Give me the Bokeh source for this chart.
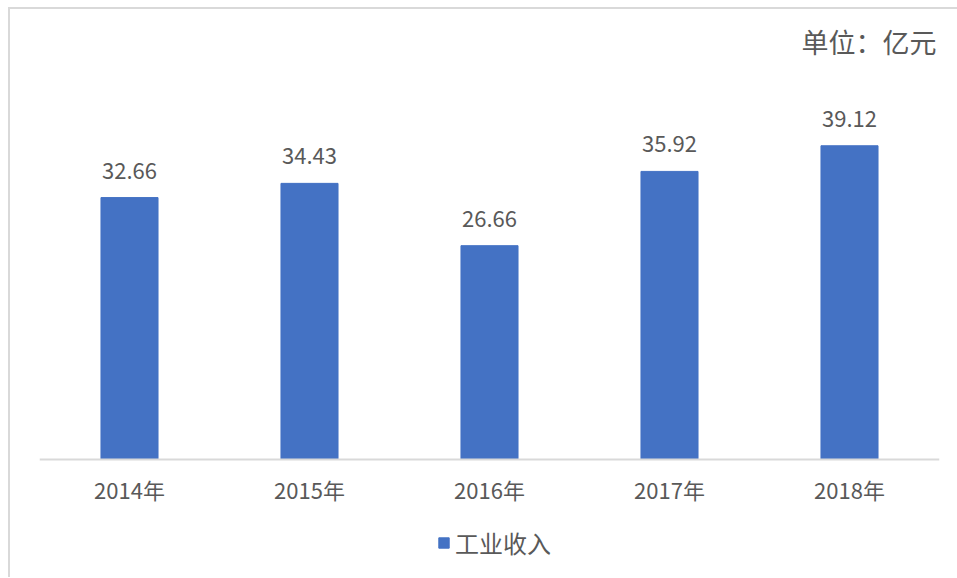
from bokeh.plotting import figure
from bokeh.models import ColumnDataSource, LabelSet, Legend, LegendItem, Range1d
from bokeh.core.properties import value
from bokeh.embed import file_html
from bokeh.resources import INLINE

years = ["2014年", "2015年", "2016年", "2017年", "2018年"]
income = [32.66, 34.43, 26.66, 35.92, 39.12]
series_name = "工业收入"
unit_text = "单位：亿元"

FONT = "Noto Sans CJK SC"
TXT = "#595959"
BAR = "#4472C4"

# layout: frame is 401 px from 0 to the axis top (50); extra 120 px below 0 hold labels + legend
Y_TOP = 50
PX_PER_UNIT = 401 / Y_TOP
Y_BOTTOM = -120 / PX_PER_UNIT

src = ColumnDataSource(dict(x=years, y=income, lab=["%.2f" % v for v in income]))

p = figure(x_range=years, y_range=Range1d(Y_BOTTOM, Y_TOP), width=949, height=570,
           output_backend="svg", toolbar_location=None,
           min_border_left=29, min_border_right=20, min_border_top=49, min_border_bottom=0)
p.margin = (7, 0, 0, 8)
p.styles = {"border-left": "2px solid #d9d9d9", "border-top": "2px solid #d9d9d9"}
p.outline_line_color = None
p.xgrid.visible = False
p.ygrid.visible = False
p.yaxis.visible = False
p.x_range.range_padding = 0

r = p.vbar(x="x", top="y", width=0.317, source=src, fill_color=BAR, line_color=BAR)

p.add_layout(LabelSet(x="x", y="y", text="lab", source=src, y_offset=19,
                      text_align="center", text_baseline="bottom",
                      text_font=value(FONT), text_font_size="22px", text_color=TXT))

ax = p.xaxis[0]
ax.fixed_location = 0
ax.axis_line_color = "#d9d9d9"
ax.axis_line_width = 2
ax.major_tick_line_color = None
ax.minor_tick_line_color = None
ax.major_label_text_font = FONT
ax.major_label_text_font_size = "22px"
ax.major_label_text_color = TXT
ax.major_label_standoff = 7

p.title.text = unit_text
p.title.align = "right"
p.title.text_font = FONT
p.title.text_font_size = "27px"
p.title.text_font_style = "normal"
p.title.text_color = TXT
p.title.standoff = -5
p.title.offset = 3

leg = Legend(items=[LegendItem(label=series_name, renderers=[r])],
             location=(398, 19), orientation="horizontal",
             glyph_width=13, glyph_height=13, padding=0, margin=0,
             label_text_font=FONT, label_text_font_size="24px", label_text_color=TXT,
             border_line_color=None, background_fill_alpha=0, label_standoff=5)
p.add_layout(leg, "center")

open("out.html", "w").write(file_html(p, INLINE))
